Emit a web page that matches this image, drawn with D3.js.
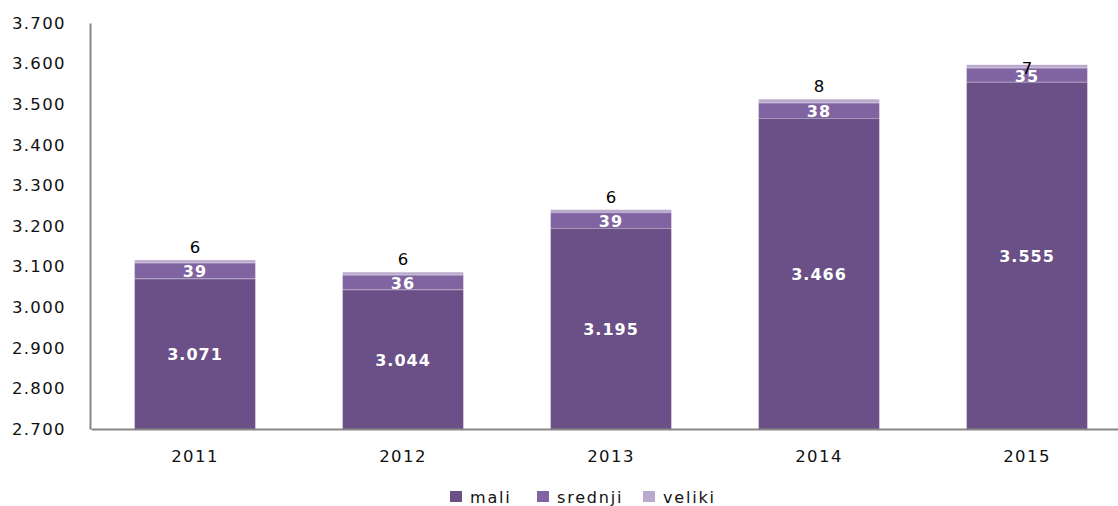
<!DOCTYPE html>
<head>
    <meta charset="utf-8">
    <title>mali / srednji / veliki</title>
    <script src="https://cdn.jsdelivr.net/npm/d3@7/dist/d3.min.js"></script>
</head>
<style>
    body { margin: 0; background: #fff; }
    text { font-family: 'DejaVu Sans', Verdana, sans-serif; }
</style>
<body>
    <svg></svg>
</body>

<script>
    var years = ['2011', '2012', '2013', '2014', '2015'];
    var mali = [3071, 3044, 3195, 3466, 3555];
    var srednji = [39, 36, 39, 38, 35];
    var veliki = [6, 6, 6, 8, 7];
    var seriesNames = ['mali', 'srednji', 'veliki'];
    var seriesColors = ['#6a5087', '#8064a2', '#b9a9cc'];
    var yTicks = [2700, 2800, 2900, 3000, 3100, 3200, 3300, 3400, 3500, 3600, 3700];

    var vWidth = 1118, vHeight = 506;
    var pLeft = 90, pRight = 1131, pTop = 23, pBottom = 429;

    var svg = d3.select('svg')
        .attr('width', vWidth)
        .attr('height', vHeight);

    // rows for the stack
    var rows = years.map(function (yr, i) {
        return { year: yr, mali: mali[i], srednji: srednji[i], veliki: veliki[i] };
    });
    var stacked = d3.stack().keys(seriesNames)(rows);

    var x = d3.scaleBand().domain(years).range([pLeft + 1, pRight]).paddingInner(0.42).paddingOuter(0.21);
    var y = d3.scaleLinear().domain([2700, 3700]).range([pBottom, pTop]);

    // bars
    var layers = svg.selectAll('g.layer')
        .data(stacked)
        .enter().append('g')
        .attr('class', 'layer')
        .attr('fill', function (d, i) { return seriesColors[i]; });

    layers.selectAll('rect')
        .data(function (d) { return d; })
        .enter().append('rect')
        .attr('x', function (d) { return x(d.data.year); })
        .attr('width', x.bandwidth())
        .attr('y', function (d) { return y(d[1]); })
        .attr('height', function (d) { return y(Math.max(d[0], 2700)) - y(d[1]); });

    // thin light divider between segments
    svg.append('g').selectAll('line')
        .data(stacked[1].concat(stacked[2]))
        .enter().append('line')
        .attr('x1', function (d) { return x(d.data.year); })
        .attr('x2', function (d) { return x(d.data.year) + x.bandwidth(); })
        .attr('y1', function (d) { return y(d[0]) + 0.5; })
        .attr('y2', function (d) { return y(d[0]) + 0.5; })
        .attr('stroke', 'rgba(255,255,255,0.4)')
        .attr('stroke-width', 1);

    // white labels inside mali and srednji
    stacked.slice(0, 2).forEach(function (layer) {
        svg.append('g').selectAll('text')
            .data(layer)
            .enter().append('text')
            .attr('x', function (d) { return x(d.data.year) + x.bandwidth() / 2; })
            .attr('y', function (d) { return (y(Math.max(d[0], 2700)) + y(d[1])) / 2 + 1; })
            .attr('dy', '0.36em')
            .attr('text-anchor', 'middle')
            .attr('fill', '#fff')
            .attr('font-weight', 'bold')
            .attr('font-size', 16)
            .attr('letter-spacing', 1)
            .text(function (d) { return d3.format(',')(d[1] - d[0]).replace(/,/g, '.'); });
    });

    // veliki labels above the stack
    svg.append('g').selectAll('text')
        .data(stacked[2])
        .enter().append('text')
        .attr('x', function (d) { return x(d.data.year) + x.bandwidth() / 2; })
        .attr('y', function (d) { return Math.max(y(d[1]) - 13, 68); })
        .attr('dy', '0.36em')
        .attr('text-anchor', 'middle')
        .attr('fill', '#000')
        .attr('font-size', 16.5)
        .text(function (d) { return d[1] - d[0]; });

    // axes
    var yAxis = svg.append('g')
        .attr('transform', 'translate(' + pLeft + ',0)')
        .call(d3.axisLeft(y).tickValues(yTicks).tickSize(0)
            .tickFormat(function (d) { return d3.format('.3f')(d / 1000); }));
    yAxis.select('.domain').attr('stroke', '#888').attr('stroke-width', 2);
    yAxis.selectAll('text').attr('font-size', 16.5).attr('fill', '#111')
        .attr('letter-spacing', 1.3).attr('text-anchor', 'start').attr('x', -78);

    var xAxis = svg.append('g')
        .attr('transform', 'translate(0,' + pBottom + ')')
        .call(d3.axisBottom(x).tickSize(0).tickPadding(21));
    xAxis.select('.domain').attr('stroke', '#888').attr('stroke-width', 2);
    xAxis.selectAll('text').attr('font-size', 16.5).attr('fill', '#111').attr('letter-spacing', 1.4);

    // legend
    var legendX = [450, 537, 643];
    var legend = svg.append('g').selectAll('g')
        .data(seriesNames)
        .enter().append('g')
        .attr('transform', function (d, i) { return 'translate(' + legendX[i] + ',491)'; });
    legend.append('rect')
        .attr('width', 12).attr('height', 11)
        .attr('fill', function (d, i) { return seriesColors[i]; });
    legend.append('text')
        .attr('x', 20).attr('y', 6).attr('dy', '0.36em')
        .attr('font-size', 16)
        .attr('letter-spacing', 1.8)
        .attr('fill', '#111')
        .text(function (d) { return d; });
</script>
